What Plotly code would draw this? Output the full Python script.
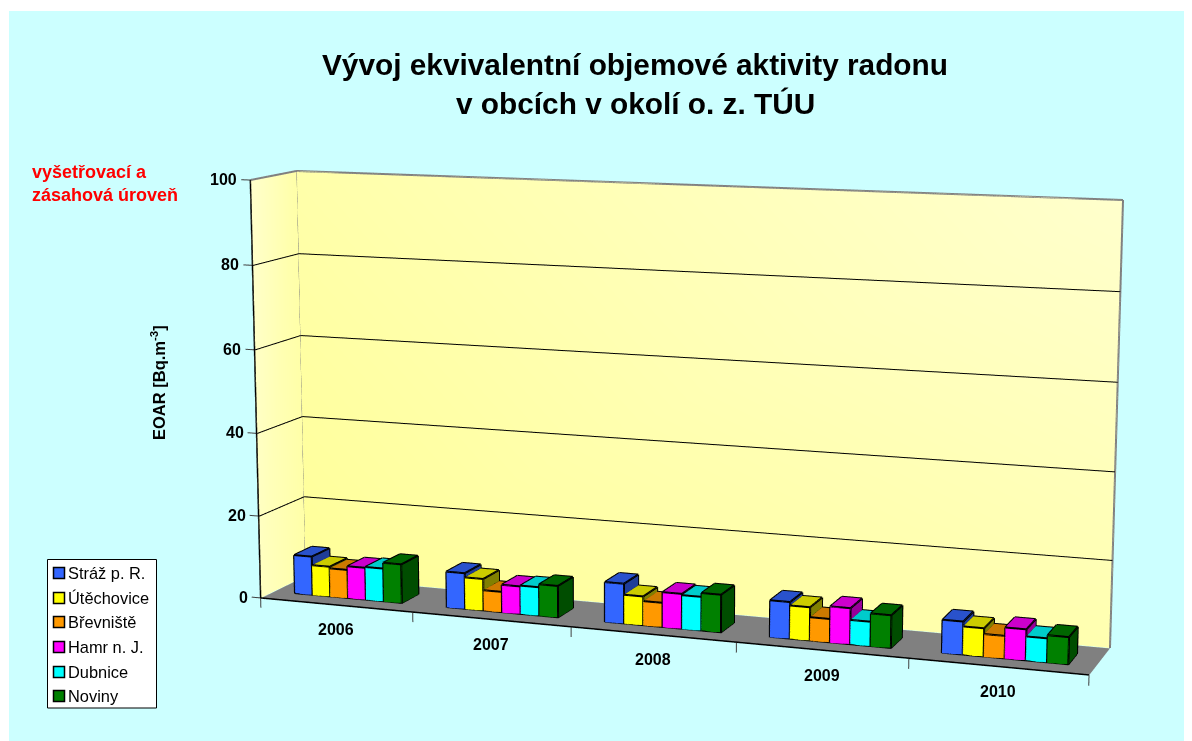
import plotly.graph_objects as go

# ---- data ----
years = ["2006", "2007", "2008", "2009", "2010"]
series_names = ["Stráž p. R.", "Útěchovice", "Břevniště", "Hamr n. J.", "Dubnice", "Noviny"]
straz = [9.5, 8.7, 9.5, 8.6, 7.6]
utech = [7.4, 7.7, 6.9, 7.8, 6.5]
brev = [7.0, 5.0, 5.8, 5.5, 5.2]
hamr = [7.9, 6.7, 8.3, 8.4, 7.1]
dubn = [8.1, 6.9, 8.0, 5.7, 5.5]
nov = [9.5, 7.6, 8.9, 7.6, 6.2]
z_ticks = [0, 20, 40, 60, 80, 100]
face_colors = ["#3366FF", "#FFFF00", "#FF9900", "#FF00FF", "#00FFFF", "#008000"]
top_colors = ["#2952CC", "#CCCC00", "#CC7A00", "#CC00CC", "#00CCCC", "#006600"]
side_colors = ["#1F3D99", "#808000", "#996600", "#990099", "#009999", "#004D00"]

# ---- page and view ----
W, H = 1184, 733          # the page's 8 px body margin completes the 1192x741 window
OFF = 8
eye = [0.27657, -7.5887, 0.7985]
center = [-0.58853, -0.0168, 0.32898]
up = [-0.05955, 0.055, 0.99671]
ax, ay, az = 7.07925, 0.3, 3.72035
S, EX, EZ = -0.02963, 0.03926, 0.0375   # lean of the Excel-style oblique view
MX, MY, MZ = 0.2, 0.2, 0.2


def T(x, d, v):
    """category position, depth 0..1 and value -> scene data coordinates"""
    ux, uz = x / 5.0, v / 100.0
    return (5 * (ux + S * uz + EX * d), d, 100 * (uz + EZ * d))


fig = go.Figure()
LIGHT = dict(ambient=1, diffuse=0, specular=0, fresnel=0, roughness=1)


def quadmesh(corners, cols):
    xyz = [T(*k) for k in corners]
    fig.add_trace(go.Mesh3d(x=[q[0] for q in xyz], y=[q[1] for q in xyz], z=[q[2] for q in xyz],
                            i=[0, 0], j=[1, 2], k=[2, 3], vertexcolor=cols, lighting=LIGHT,
                            flatshading=False, hoverinfo="skip", showscale=False))


def lines(segs, color, width):
    xs, ys, zs = [], [], []
    for a_, b_ in segs:
        A_ = T(*a_)
        B_ = T(*b_)
        xs += [A_[0], B_[0], None]
        ys += [A_[1], B_[1], None]
        zs += [A_[2], B_[2], None]
    fig.add_trace(go.Scatter3d(x=xs, y=ys, z=zs, mode="lines", line=dict(color=color, width=width),
                               hoverinfo="skip", showlegend=False))


# walls and floor
quadmesh([(0, 1, 0), (5, 1, 0), (5, 1, 100), (0, 1, 100)], ["#FFFF99", "#FFFFB0", "#FFFFCC", "#FFFFAA"])
quadmesh([(0, 0, 0), (0, 1, 0), (0, 1, 100), (0, 0, 100)], ["#FFFFC0", "#FFFFA8", "#FFFFA8", "#FFFFCC"])
quadmesh([(0, 0, -0.1), (5, 0, -0.1), (5, 1, -0.1), (0, 1, -0.1)], ["#808080"] * 4)

# grid, frame and ticks
gs = []
for v in z_ticks[1:-1]:
    gs += [((0.005, 0.995, v), (5, 0.995, v)), ((0.005, 0, v), (0.005, 0.995, v))]
lines(gs, "black", 2)
lines([((0, 0, 100), (0, 1, 100)), ((0, 1, 100), (5, 1, 100)), ((5, 1, 100), (5, 1, 0)), ((0, 1, 100), (0, 1, 0))],
      "#808080", 4)
lines([((0, 0, 0), (5, 0, 0)), ((0, 0, 0), (0, 0, 100))], "#000000", 3)
lines([((0, 0, v), (-0.06, 0, v)) for v in z_ticks] + [((c_, 0, 0), (c_, 0, -2.4)) for c_ in range(6)], "#404040", 2)

# bars
all_series = [straz, utech, brev, hamr, dubn, nov]
GAP, BW, D0, D1 = 0.145, 0.118, 0.28, 0.68
edges = [(0, 1), (1, 2), (2, 3), (3, 0), (4, 5), (5, 6), (6, 7), (7, 4), (0, 4), (1, 5), (2, 6), (3, 7)]
quads = [(0, 1, 5, 4, "f"), (4, 5, 6, 7, "t"), (1, 2, 6, 5, "s"), (0, 3, 7, 4, "s"), (3, 2, 6, 7, "f"), (0, 1, 2, 3, "t")]
for si, vals in enumerate(all_series):
    X, Y, Z, I, J_, K, FC = [], [], [], [], [], [], []
    segs = []
    for c_, v in enumerate(vals):
        x0 = c_ + GAP + si * BW
        x1 = x0 + BW
        cs = [(x0, D0, 0), (x1, D0, 0), (x1, D1, 0), (x0, D1, 0), (x0, D0, v), (x1, D0, v), (x1, D1, v), (x0, D1, v)]
        b = len(X)
        for k_ in cs:
            q = T(*k_)
            X.append(q[0])
            Y.append(q[1])
            Z.append(q[2])
        for qd in quads:
            col = {"f": face_colors[si], "t": top_colors[si], "s": side_colors[si]}[qd[4]]
            I += [b + qd[0], b + qd[0]]
            J_ += [b + qd[1], b + qd[2]]
            K += [b + qd[2], b + qd[3]]
            FC += [col, col]
        segs += [(cs[a_], cs[b_]) for a_, b_ in edges]
    fig.add_trace(go.Mesh3d(x=X, y=Y, z=Z, i=I, j=J_, k=K, facecolor=FC, name=series_names[si],
                            flatshading=True, lighting=LIGHT, hoverinfo="skip"))
    lines(segs, "black", 4)

# axis labels anchored in the scene
FONT = "Liberation Sans"
scene_ann = []
for v in z_ticks:
    q = T(-0.06, 0, v)
    scene_ann.append(dict(x=q[0], y=q[1], z=q[2], text=f"<b>{v}</b>", showarrow=False, xanchor="right", xshift=-2,
                          font=dict(family=FONT, size=16, color="black")))
for c_, yr in enumerate(years):
    q = T(c_ + 0.5, 0, 0)
    scene_ann.append(dict(x=q[0], y=q[1], z=q[2], text=f"<b>{yr}</b>", showarrow=False, yshift=-25,
                          font=dict(family=FONT, size=16, color="black")))
axis = dict(visible=False, showspikes=False)


def px(x):
    return (x - OFF) / W


def py(y):
    return 1 - (y - OFF) / H


anns = []


def txt(x, y, s, size, color="black", bold=False, xa="center", angle=0):
    anns.append(dict(x=px(x), y=py(y), xref="paper", yref="paper", text=f"<b>{s}</b>" if bold else s, showarrow=False,
                     xanchor=xa, yanchor="middle", textangle=angle, font=dict(family=FONT, size=size, color=color)))


txt(635, 65, "Vývoj ekvivalentní objemové aktivity radonu", 29.8, bold=True)
txt(635, 103, "v obcích v okolí o. z. TÚU", 29.8, bold=True)
txt(30, 172, "vyšetřovací a", 18, color="#FF0000", bold=True, xa="left")
txt(30, 195, "zásahová úroveň", 18, color="#FF0000", bold=True, xa="left")
txt(158, 383, "EOAR [Bq.m<sup>-3</sup>]", 16.5, bold=True, angle=-90)

shapes = [dict(type="rect", xref="paper", yref="paper", x0=px(9), x1=px(1192), y0=py(741), y1=py(11),
               fillcolor="#CCFFFF", line=dict(width=0), layer="below"),
          dict(type="rect", xref="paper", yref="paper", x0=px(47.5), x1=px(156.5), y0=py(708), y1=py(559.5),
               fillcolor="white", line=dict(color="black", width=1), layer="above")]
for nm, col, yc_ in zip(series_names, face_colors, [573, 598, 622, 647, 672, 696]):
    shapes.append(dict(type="rect", xref="paper", yref="paper", x0=px(53.5), x1=px(64.5), y0=py(yc_ + 5.5), y1=py(yc_ - 5.5),
                       fillcolor=col, line=dict(color="black", width=1.5), layer="above"))
    txt(66, yc_, nm, 16.4, xa="left")

fig.update_layout(
    width=W, height=H, margin=dict(l=0, r=0, t=0, b=0), showlegend=False, paper_bgcolor="white",
    shapes=shapes, annotations=anns,
    scene=dict(domain=dict(x=[0, 1], y=[0, 1]), aspectmode="manual",
               aspectratio=dict(x=ax * (1 + 2 * MX), y=ay * (1 + 2 * MY), z=az * (1 + 2 * MZ)),
               camera=dict(eye=dict(zip("xyz", eye)), center=dict(zip("xyz", center)), up=dict(zip("xyz", up)),
                           projection=dict(type="perspective")),
               xaxis=dict(range=[-5 * MX, 5 + 5 * MX], **axis), yaxis=dict(range=[-MY, 1 + MY], **axis),
               zaxis=dict(range=[-100 * MZ, 100 + 100 * MZ], **axis), annotations=scene_ann,
               bgcolor="rgba(0,0,0,0)"))
fig.write_html("out.html")
